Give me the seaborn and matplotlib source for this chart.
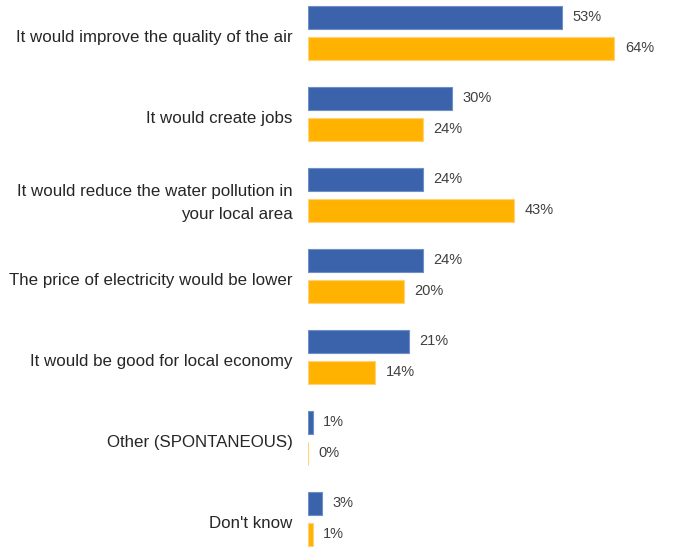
import matplotlib
matplotlib.use("Agg")
import matplotlib.pyplot as plt
import matplotlib.transforms as mtransforms
import seaborn as sns
import pandas as pd

categories = [
    "It would improve the quality of the air",
    "It would create jobs",
    "It would reduce the water pollution in\nyour local area",
    "The price of electricity would be lower",
    "It would be good for local economy",
    "Other (SPONTANEOUS)",
    "Don't know",
]
series_names = ["Series 1", "Series 2"]
values_blue = [53, 30, 24, 24, 21, 1, 3]
values_orange = [64, 24, 43, 20, 14, 0, 1]
colors = ["#3A63AB", "#FFB300"]
edge_colors = ["#6F8FC8", "#FFD27A"]

df = pd.DataFrame({
    "category": categories * 2,
    "series": [series_names[0]] * len(categories) + [series_names[1]] * len(categories),
    "value": values_blue + values_orange,
})

sns.set_theme(style="white")
plt.rcParams["font.family"] = ["Liberation Sans", "DejaVu Sans"]

fig = plt.figure(figsize=(6.8, 5.47), dpi=100)
ax = fig.add_axes([308 / 680, 0, 1 - 308 / 680, 1])

sns.barplot(data=df, y="category", x="value", hue="series", order=categories,
            hue_order=series_names, palette=colors, orient="h", saturation=1,
            width=0.765, gap=0.26, legend=False, ax=ax)

for container, ec in zip(ax.containers, edge_colors):
    for bar in container:
        bar.set_edgecolor(ec)
        bar.set_linewidth(0.8)
    labels = [f"{v:.0f}%" for v in container.datavalues]
    ax.bar_label(container, labels=labels, padding=7.5, fontsize=10.5, color="#404040")

ax.set_xlim(0, 77.7)
ax.set_ylim(6.346, -0.407)
ax.set_xlabel("")
ax.set_ylabel("")
ax.set_xticks([])
ax.tick_params(axis="y", length=0, pad=11, labelsize=12.2, labelcolor="#262626")
for lbl in ax.get_yticklabels():
    lbl.set_horizontalalignment("right")
    lbl.set_linespacing(1.6)
    lbl.set_transform(lbl.get_transform() + mtransforms.ScaledTranslation(0, -3 / 100, fig.dpi_scale_trans))
sns.despine(ax=ax, left=True, bottom=True)

fig.savefig("out.png", dpi=100)
